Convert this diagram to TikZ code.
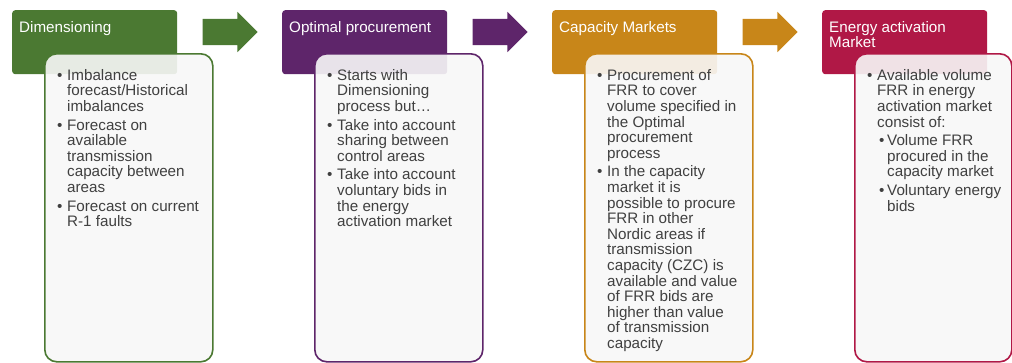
\documentclass[tikz,border=0pt]{standalone}
\usepackage{fontspec}
\setmainfont{Liberation Sans}
\usetikzlibrary{shapes.arrows,calc}

\definecolor{dimGreen}{RGB}{75,121,50}
\definecolor{optPurple}{RGB}{94,37,106}
\definecolor{capGold}{RGB}{200,134,25}
\definecolor{actRed}{RGB}{176,24,70}
\definecolor{bodyFill}{RGB}{248,248,248}
\definecolor{bodyGray}{RGB}{64,64,64}

\newcommand{\bul}{\makebox[10pt][l]{\textbullet}}
\newcommand{\ind}{\hspace*{10pt}}
\newcommand{\subbul}{\hspace*{12pt}\makebox[8pt][l]{\textbullet}}
\newcommand{\subind}{\hspace*{20pt}}

\begin{document}
\begin{tikzpicture}
[x=1pt,y=-1pt,
  headBox/.style={rectangle,rounded corners=3pt,inner sep=0pt,
    minimum width=165pt,minimum height=64pt,anchor=north west},
  headText/.style={anchor=north west,inner sep=0pt,text=white,align=left,
    font=\fontsize{15.2}{15.4}\selectfont},
  bodyBox/.style={rectangle,rounded corners=12pt,inner sep=0pt,line width=1.6pt,
    fill=bodyFill,fill opacity=0.9,minimum width=168pt,minimum height=308pt,
    anchor=north west},
  bodyText/.style={anchor=north west,inner sep=0pt,text=bodyGray,align=left,
    font=\fontsize{15.2}{15.6}\selectfont},
  arrowDecorate/.style={single arrow,single arrow head extend=7pt,
    inner xsep=0pt,inner ysep=13pt,minimum height=55pt,anchor=tail}]
\useasboundingbox[fill=white] (0,0) rectangle (1012,362);
%% headers and arrows
\foreach \name/\x/\col/\title in {
  dim/12/dimGreen/Dimensioning, opt/282/optPurple/Optimal procurement,
  cap/552/capGold/Capacity Markets, act/822/actRed/{Energy activation\\Market}}
{
  \node[headBox,fill=\col] (\name) at (\x,10) {};
  \node[headText] (\name-title) at ($(\name.north west)+(7,11)$) {\title};
}
\foreach \name/\col in {dim/dimGreen, opt/optPurple, cap/capGold}
{
  \node[arrowDecorate,fill=\col] (\name-arrow) at ($(\name.north east)+(25,22)$) {};
}
%% bodies
\node[bodyBox,draw=dimGreen] (dim-body) at ($(dim.north west)+(32,43)$) {};
\node[bodyBox,draw=optPurple] (opt-body) at ($(opt.north west)+(32,43)$) {};
\node[bodyBox,draw=capGold] (cap-body) at ($(cap.north west)+(32,43)$) {};
\node[bodyBox,draw=actRed,minimum width=157pt] (act-body) at ($(act.north west)+(32,43)$) {};
%% body texts
\node[bodyText] (dim-text) at ($(dim-body.north west)+(13,16)$) {%
  \bul Imbalance\\ \ind forecast/Historical\\ \ind imbalances\\[3pt]
  \bul Forecast on\\ \ind available\\ \ind transmission\\ \ind capacity between\\ \ind areas\\[3pt]
  \bul Forecast on current\\ \ind R-1 faults};
\node[bodyText] (opt-text) at ($(opt-body.north west)+(13,16)$) {%
  \bul Starts with\\ \ind Dimensioning\\ \ind process but…\\[3pt]
  \bul Take into account\\ \ind sharing between\\ \ind control areas\\[3pt]
  \bul Take into account\\ \ind voluntary bids in\\ \ind the energy\\ \ind activation market};
\node[bodyText] (cap-text) at ($(cap-body.north west)+(13,16)$) {%
  \bul Procurement of\\ \ind FRR to cover\\ \ind volume specified in\\ \ind the Optimal\\
  \ind procurement\\ \ind process\\[3pt]
  \bul In the capacity\\ \ind market it is\\ \ind possible to procure\\ \ind FRR in other\\
  \ind Nordic areas if\\ \ind transmission\\ \ind capacity (CZC) is\\ \ind available and value\\
  \ind of FRR bids are\\ \ind higher than value\\ \ind of transmission\\ \ind capacity};
\node[bodyText] (act-text) at ($(act-body.north west)+(13,16)$) {%
  \bul Available volume\\ \ind FRR in energy\\ \ind activation market\\ \ind consist of:\\[3pt]
  \subbul Volume FRR\\ \subind procured in the\\ \subind capacity market\\[3pt]
  \subbul Voluntary energy\\ \subind bids};
\end{tikzpicture}
\end{document}
